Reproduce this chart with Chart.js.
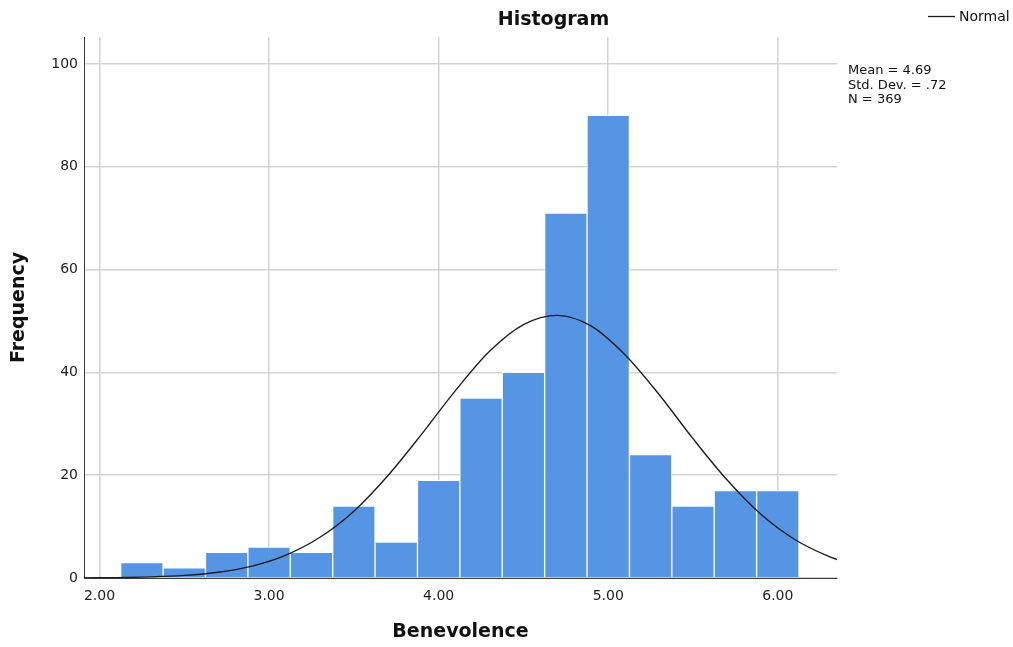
<!DOCTYPE html>
<html>
<head>
<meta charset="utf-8">
<title>Histogram – Benevolence</title>
<script src="https://cdn.jsdelivr.net/npm/chart.js@4/dist/chart.umd.min.js"></script>
<style>
  html, body { margin: 0; padding: 0; background: #ffffff; }
  #wrap { width: 1013px; height: 647px; }
</style>
</head>
<body>
<div id="wrap"><canvas id="chart" width="1013" height="647"></canvas></div>
<script>
// Histogram bins (centre of each bin) and their frequencies
const binCenters = [2.25, 2.50, 2.75, 3.00, 3.25, 3.50, 3.75, 4.00, 4.25, 4.50, 4.75, 5.00, 5.25, 5.50, 5.75, 6.00];
const counts     = [3, 2, 5, 6, 5, 14, 7, 19, 35, 40, 71, 90, 24, 14, 17, 17];

// Fitted normal curve (Mean = 4.69, Std. Dev. = .72, N = 369)
const curveX = [1.90, 2.10, 2.30, 2.50, 2.70, 2.90, 3.10, 3.30, 3.50, 3.70, 3.90, 4.10,
                4.30, 4.50, 4.70, 4.90, 5.10, 5.30, 5.50, 5.70, 5.90, 6.10, 6.30, 6.35];
const curveY = [0.03, 0.08, 0.21, 0.50, 1.12, 2.32, 4.46, 7.92, 13.0, 19.9, 28.0, 36.5,
                44.1, 49.3, 51.1, 49.0, 43.4, 35.7, 27.1, 19.1, 12.4, 7.5, 4.2, 3.6];

// Axis ticks
const xTicks = [2, 3, 4, 5, 6];
const yTicks = [0, 20, 40, 60, 80, 100];

// Summary statistics shown beside the plot
const statLines = ['Mean = 4.69', 'Std. Dev. = .72', 'N = 369'];

const FONT = "'DejaVu Sans', 'Liberation Sans', sans-serif";

// Chart title, legend entry and statistics box
const annotations = {
  id: 'annotations',
  afterDraw(chart) {
    const ctx = chart.ctx;
    ctx.save();
    ctx.fillStyle = '#111111';
    ctx.textBaseline = 'middle';

    ctx.font = 'bold 19px ' + FONT;
    ctx.textAlign = 'center';
    ctx.fillText('Histogram', 553.5, 20);

    ctx.strokeStyle = '#1c1c1c';
    ctx.lineWidth = 1.3;
    ctx.beginPath();
    ctx.moveTo(928, 16.5);
    ctx.lineTo(955, 16.5);
    ctx.stroke();
    ctx.font = '14px ' + FONT;
    ctx.textAlign = 'left';
    ctx.fillText('Normal', 959, 17);

    ctx.font = '13px ' + FONT;
    statLines.forEach((t, i) => ctx.fillText(t, 848, 71 + i * 14.5));
    ctx.restore();
  }
};

new Chart(document.getElementById('chart').getContext('2d'), {
  type: 'bar',
  data: {
    datasets: [
      {
        type: 'line',
        label: 'Normal',
        data: curveX.map((x, i) => ({ x: x, y: curveY[i] })),
        borderColor: '#1c1c1c',
        borderWidth: 1.35,
        pointRadius: 0,
        cubicInterpolationMode: 'monotone',
        fill: false,
        order: 0
      },
      {
        type: 'bar',
        label: 'Benevolence',
        data: binCenters.map((x, i) => ({ x: x, y: counts[i] })),
        backgroundColor: '#5595e4',
        borderColor: 'rgba(255,255,255,0.85)',
        borderWidth: 1,
        barPercentage: 1,
        categoryPercentage: 1,
        order: 1
      }
    ]
  },
  options: {
    responsive: false,
    animation: false,
    devicePixelRatio: 1,
    layout: { padding: { top: 37, right: 176, left: 0, bottom: 0 } },
    plugins: {
      legend: { display: false },
      title: { display: false },
      tooltip: { enabled: false }
    },
    scales: {
      x: {
        type: 'linear',
        min: 1.9086,
        max: 6.349,
        offset: false,
        afterBuildTicks: s => { s.ticks = xTicks.map(v => ({ value: v })); },
        afterFit: s => { s.height = 69; },
        ticks: {
          callback: v => Number(v).toFixed(2),
          font: { family: FONT, size: 14 },
          color: '#1e1e1e',
          padding: 10,
          maxRotation: 0,
          autoSkip: false
        },
        grid: { color: '#d3d3d3', lineWidth: 1.5, drawTicks: false, offset: false },
        border: { color: '#3a3a3a', width: 1 },
        title: {
          display: true,
          text: 'Benevolence',
          font: { family: FONT, size: 19, weight: 'bold' },
          color: '#111111',
          padding: { top: 0, bottom: 4 }
        }
      },
      y: {
        min: 0,
        max: 105.25,
        afterBuildTicks: s => { s.ticks = yTicks.map(v => ({ value: v })); },
        afterFit: s => { s.width = 84; },
        ticks: {
          font: { family: FONT, size: 14 },
          color: '#1e1e1e',
          padding: 6
        },
        grid: { color: '#d3d3d3', lineWidth: 1.5, drawTicks: false },
        border: { color: '#3a3a3a', width: 1 },
        title: {
          display: true,
          text: 'Frequency',
          font: { family: FONT, size: 19, weight: 'bold' },
          color: '#111111',
          padding: { top: 8, bottom: 0 }
        }
      }
    }
  },
  plugins: [annotations]
});
</script>
</body>
</html>
